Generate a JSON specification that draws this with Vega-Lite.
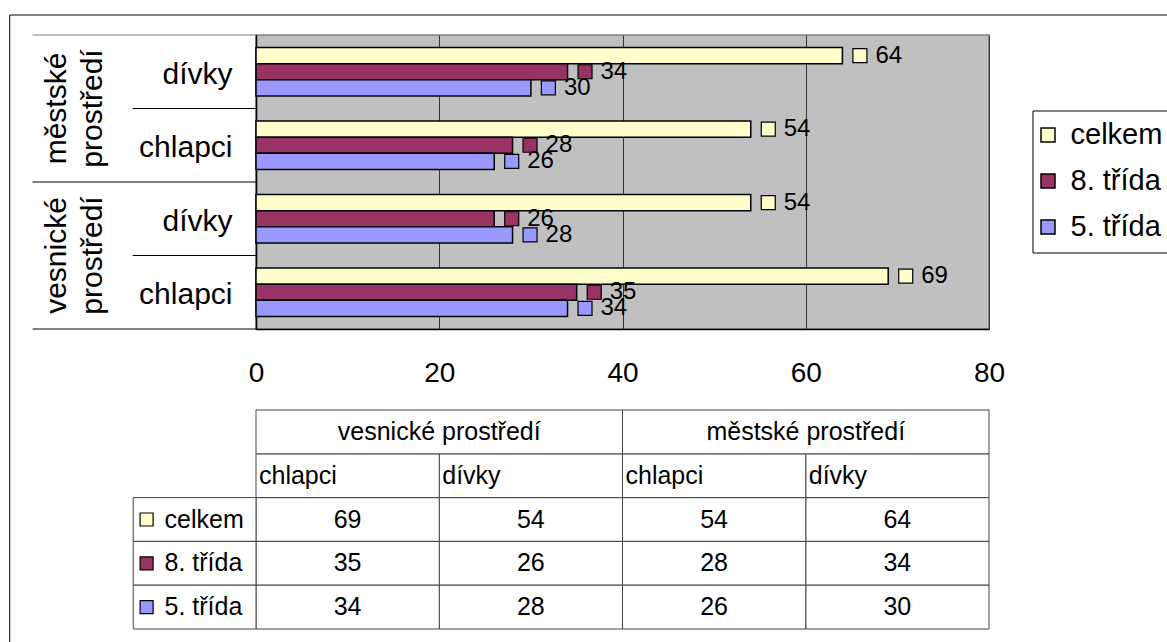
{
  "$schema": "https://vega.github.io/schema/vega-lite/v6.json",
  "padding": {"left": 8, "top": 13, "right": 0, "bottom": 0},
  "background": "white",
  "bounds": "flush",
  "spacing": 81,
  "config": {"font": "Liberation Sans"},
  "datasets": {
    "hodnoty": [
      {"prostredi": "městské prostředí", "pohlavi": "dívky", "skupina": "městské prostředí|dívky", "rada": "celkem", "hodnota": 64},
      {"prostredi": "městské prostředí", "pohlavi": "dívky", "skupina": "městské prostředí|dívky", "rada": "8. třída", "hodnota": 34},
      {"prostredi": "městské prostředí", "pohlavi": "dívky", "skupina": "městské prostředí|dívky", "rada": "5. třída", "hodnota": 30},
      {"prostredi": "městské prostředí", "pohlavi": "chlapci", "skupina": "městské prostředí|chlapci", "rada": "celkem", "hodnota": 54},
      {"prostredi": "městské prostředí", "pohlavi": "chlapci", "skupina": "městské prostředí|chlapci", "rada": "8. třída", "hodnota": 28},
      {"prostredi": "městské prostředí", "pohlavi": "chlapci", "skupina": "městské prostředí|chlapci", "rada": "5. třída", "hodnota": 26},
      {"prostredi": "vesnické prostředí", "pohlavi": "dívky", "skupina": "vesnické prostředí|dívky", "rada": "celkem", "hodnota": 54},
      {"prostredi": "vesnické prostředí", "pohlavi": "dívky", "skupina": "vesnické prostředí|dívky", "rada": "8. třída", "hodnota": 26},
      {"prostredi": "vesnické prostředí", "pohlavi": "dívky", "skupina": "vesnické prostředí|dívky", "rada": "5. třída", "hodnota": 28},
      {"prostredi": "vesnické prostředí", "pohlavi": "chlapci", "skupina": "vesnické prostředí|chlapci", "rada": "celkem", "hodnota": 69},
      {"prostredi": "vesnické prostředí", "pohlavi": "chlapci", "skupina": "vesnické prostředí|chlapci", "rada": "8. třída", "hodnota": 35},
      {"prostredi": "vesnické prostředí", "pohlavi": "chlapci", "skupina": "vesnické prostředí|chlapci", "rada": "5. třída", "hodnota": 34}
    ]
  },
  "vconcat": [
    {
      "width": 733,
      "height": 294,
      "view": {"fill": "#c0c0c0", "stroke": "#808080", "strokeWidth": 1.5},
      "data": {"name": "hodnoty"},
      "encoding": {
        "y": {
          "field": "skupina", "type": "nominal",
          "scale": {"domain": ["městské prostředí|dívky", "městské prostředí|chlapci", "vesnické prostředí|dívky", "vesnické prostředí|chlapci"], "paddingInner": 0, "paddingOuter": 0},
          "axis": {"title": null, "labelExpr": "split(datum.label, '|')[1]", "ticks": false, "domain": true, "domainColor": "black", "domainWidth": 1.5, "labelFontSize": 30, "labelPadding": 24, "labelOffset": 3, "labelColor": "black", "grid": false}
        },
        "x": {
          "field": "hodnota", "type": "quantitative",
          "scale": {"domain": [0, 80], "nice": false, "zero": false},
          "axis": {"title": null, "values": [0, 20, 40, 60, 80], "grid": true, "gridColor": "#333333", "gridWidth": 1, "ticks": false, "domain": true, "domainColor": "black", "domainWidth": 1.5, "labelFontSize": 28, "labelPadding": 30, "labelColor": "black", "labelFlush": false, "labelOverlap": false}
        }
      },
      "layer": [
        {
          "mark": {"type": "bar", "stroke": "black", "strokeWidth": 1.5},
          "encoding": {
            "yOffset": {"field": "rada", "type": "nominal", "scale": {"domain": ["celkem", "8. třída", "5. třída"], "paddingInner": 0, "paddingOuter": 0.78}},
            "color": {
              "field": "rada", "type": "nominal",
              "scale": {"domain": ["celkem", "8. třída", "5. třída"], "range": ["#ffffcc", "#993366", "#9999ff"]},
              "legend": {"orient": "none", "legendX": 776.5, "legendY": 75.5, "title": null, "padding": 10, "strokeColor": "black", "fillColor": "white", "symbolType": "square", "symbolSize": 196, "symbolStrokeColor": "black", "symbolStrokeWidth": 1.5, "symbolOffset": -9, "labelFontSize": 29, "labelColor": "black", "rowPadding": 16, "labelOffset": 8, "cornerRadius": 0,
                "encode": {"symbols": {"update": {"size": {"value": 196}}}}}
            }
          }
        },
        {
          "mark": {"type": "point", "shape": "square", "filled": true, "size": 196, "stroke": "black", "strokeWidth": 1.2, "xOffset": 17.5, "opacity": 1},
          "encoding": {
            "yOffset": {"field": "rada", "type": "nominal"},
            "fill": {"field": "rada", "type": "nominal", "scale": {"domain": ["celkem", "8. třída", "5. třída"], "range": ["#ffffcc", "#993366", "#9999ff"]}, "legend": null}
          }
        },
        {
          "mark": {"type": "text", "align": "left", "baseline": "middle", "dx": 33, "fontSize": 24, "color": "black"},
          "encoding": {
            "yOffset": {"field": "rada", "type": "nominal"},
            "text": {"field": "hodnota", "type": "quantitative"}
          }
        },
        {
          "transform": [{"filter": "datum.rada === 'celkem' && datum.pohlavi === 'chlapci'"}],
          "mark": {"type": "rule", "color": "black", "strokeWidth": 1},
          "encoding": {
            "y": {"field": "skupina", "type": "nominal", "bandPosition": 0},
            "x": {"datum": -13.47, "type": "quantitative"},
            "x2": {"datum": 0}
          }
        },
        {
          "transform": [{"filter": "datum.rada === 'celkem' && datum.pohlavi === 'dívky'"}],
          "mark": {"type": "rule", "strokeWidth": 1},
          "encoding": {
            "y": {"field": "skupina", "type": "nominal", "bandPosition": 0},
            "x": {"datum": -24.38, "type": "quantitative"},
            "x2": {"datum": 0},
            "stroke": {"condition": {"test": "datum.prostredi === 'městské prostředí'", "value": "#808080"}, "value": "black"}
          }
        },
        {
          "transform": [{"filter": "datum.rada === 'celkem' && datum.skupina === 'vesnické prostředí|chlapci'"}],
          "mark": {"type": "rule", "color": "black", "strokeWidth": 1},
          "encoding": {
            "y": {"field": "skupina", "type": "nominal", "bandPosition": 1},
            "x": {"datum": -24.38, "type": "quantitative"},
            "x2": {"datum": 0}
          }
        },
        {
          "transform": [{"filter": "datum.rada === 'celkem' && datum.pohlavi === 'dívky'"}],
          "mark": {"type": "text", "angle": 270, "align": "center", "baseline": "alphabetic", "lineBreak": " ", "lineHeight": 36, "fontSize": 30, "color": "black"},
          "encoding": {
            "y": {"field": "skupina", "type": "nominal", "bandPosition": 1},
            "x": {"datum": -20.78, "type": "quantitative"},
            "text": {"field": "prostredi", "type": "nominal"}
          }
        },
        {
          "transform": [{"filter": "datum.rada === 'celkem' && datum.skupina === 'městské prostředí|dívky'"}],
          "mark": {"type": "rule", "color": "black", "strokeWidth": 1, "yOffset": -20},
          "encoding": {
            "y": {"field": "skupina", "type": "nominal", "bandPosition": 0},
            "x": {"datum": -26.88, "type": "quantitative"},
            "x2": {"datum": 100}
          }
        },
        {
          "transform": [{"filter": "datum.rada === 'celkem' && datum.skupina === 'městské prostředí|dívky'"}],
          "mark": {"type": "rule", "color": "black", "strokeWidth": 1, "yOffset": -20, "y2Offset": 400},
          "encoding": {
            "x": {"datum": -26.88, "type": "quantitative"},
            "y": {"field": "skupina", "type": "nominal", "bandPosition": 0},
            "y2": {"datum": "vesnické prostředí|chlapci"}
          }
        }
      ]
    },
    {
      "width": 733,
      "height": 219,
      "view": {"stroke": null},
      "data": {"name": "hodnoty"},
      "resolve": {"scale": {"x": "independent"}},
      "layer": [
        {
          "encoding": {
            "x": {"field": "skupina", "type": "nominal", "scale": {"domain": ["vesnické prostředí|chlapci", "vesnické prostředí|dívky", "městské prostředí|chlapci", "městské prostředí|dívky"], "paddingInner": 0, "paddingOuter": 0}, "axis": null}
          },
          "layer": [
            {
              "mark": {"type": "rect", "fill": "white", "stroke": "#444444", "strokeWidth": 1},
              "encoding": {
                "y": {"field": "rada", "type": "nominal", "scale": {"domain": ["prostředí", "pohlaví", "celkem", "8. třída", "5. třída"], "paddingInner": 0, "paddingOuter": 0}, "axis": null}
              }
            },
            {
              "transform": [{"filter": "datum.rada === 'celkem'"}],
              "mark": {"type": "rect", "fill": "white", "stroke": "#444444", "strokeWidth": 1},
              "encoding": {
                "y": {"datum": "pohlaví", "type": "nominal"}
              }
            },
            {
              "mark": {"type": "text", "fontSize": 25, "color": "black", "baseline": "middle"},
              "encoding": {
                "y": {"field": "rada", "type": "nominal"},
                "text": {"field": "hodnota", "type": "quantitative"}
              }
            },
            {
              "transform": [{"filter": "datum.rada === 'celkem'"}],
              "mark": {"type": "text", "fontSize": 25, "color": "black", "align": "left", "baseline": "middle", "dx": 3},
              "encoding": {
                "x": {"field": "skupina", "type": "nominal", "bandPosition": 0},
                "y": {"datum": "pohlaví", "type": "nominal"},
                "text": {"field": "pohlavi", "type": "nominal"}
              }
            }
          ]
        },
        {
          "transform": [{"filter": "datum.rada === 'celkem' && datum.pohlavi === 'chlapci'"}],
          "encoding": {
            "x": {"field": "prostredi", "type": "nominal", "scale": {"domain": ["vesnické prostředí", "městské prostředí"], "paddingInner": 0, "paddingOuter": 0}, "axis": null},
            "y": {"datum": "prostředí", "type": "nominal"}
          },
          "layer": [
            {"mark": {"type": "rect", "fill": "white", "stroke": "#444444", "strokeWidth": 1}},
            {
              "mark": {"type": "text", "fontSize": 25, "color": "black", "baseline": "middle"},
              "encoding": {"text": {"field": "prostredi", "type": "nominal"}}
            }
          ]
        },
        {
          "transform": [{"filter": "datum.skupina === 'vesnické prostředí|chlapci'"}],
          "encoding": {
            "y": {"field": "rada", "type": "nominal"}
          },
          "layer": [
            {
              "mark": {"type": "rect", "fill": "white", "stroke": "#444444", "strokeWidth": 1},
              "encoding": {
                "x": {"datum": -13.4, "type": "quantitative", "scale": {"domain": [0, 80], "nice": false, "zero": false}, "axis": null},
                "x2": {"datum": 0}
              }
            },
            {
              "mark": {"type": "point", "shape": "square", "filled": true, "size": 169, "stroke": "black", "strokeWidth": 1.2, "opacity": 1},
              "encoding": {
                "x": {"datum": -11.94, "type": "quantitative"},
                "fill": {"field": "rada", "type": "nominal", "scale": {"domain": ["celkem", "8. třída", "5. třída"], "range": ["#ffffcc", "#993366", "#9999ff"]}, "legend": null}
              }
            },
            {
              "mark": {"type": "text", "fontSize": 25, "color": "black", "align": "left", "baseline": "middle"},
              "encoding": {
                "x": {"datum": -9.98, "type": "quantitative"},
                "text": {"field": "rada", "type": "nominal"}
              }
            }
          ]
        }
      ]
    }
  ]
}
